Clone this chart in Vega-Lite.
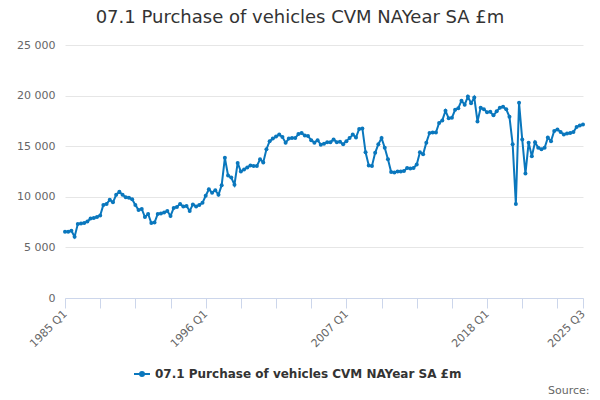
{
  "$schema": "https://vega.github.io/schema/vega-lite/v6.json",
  "autosize": {"type": "none"},
  "width": 518,
  "height": 253,
  "padding": {"left": 65, "top": 45, "right": 17, "bottom": 102},
  "background": "white",
  "config": {
    "font": "DejaVu Sans",
    "view": {"stroke": null}
  },
  "title": {
    "text": "07.1 Purchase of vehicles CVM NAYear SA £m",
    "fontSize": 18,
    "fontWeight": "normal",
    "color": "#333333",
    "anchor": "middle",
    "dx": -24,
    "offset": 12
  },
  "data": {
    "values": [
      {"q": "1985 Q1", "v": 6550}, {"q": "1985 Q2", "v": 6550}, {"q": "1985 Q3", "v": 6650}, {"q": "1985 Q4", "v": 6050},
      {"q": "1986 Q1", "v": 7300}, {"q": "1986 Q2", "v": 7350}, {"q": "1986 Q3", "v": 7400}, {"q": "1986 Q4", "v": 7550},
      {"q": "1987 Q1", "v": 7850}, {"q": "1987 Q2", "v": 7900}, {"q": "1987 Q3", "v": 8000}, {"q": "1987 Q4", "v": 8150},
      {"q": "1988 Q1", "v": 9200}, {"q": "1988 Q2", "v": 9300}, {"q": "1988 Q3", "v": 9700}, {"q": "1988 Q4", "v": 9450},
      {"q": "1989 Q1", "v": 10200}, {"q": "1989 Q2", "v": 10500}, {"q": "1989 Q3", "v": 10200}, {"q": "1989 Q4", "v": 9950},
      {"q": "1990 Q1", "v": 9900}, {"q": "1990 Q2", "v": 9750}, {"q": "1990 Q3", "v": 9200}, {"q": "1990 Q4", "v": 8700},
      {"q": "1991 Q1", "v": 8800}, {"q": "1991 Q2", "v": 8000}, {"q": "1991 Q3", "v": 8300}, {"q": "1991 Q4", "v": 7400},
      {"q": "1992 Q1", "v": 7450}, {"q": "1992 Q2", "v": 8300}, {"q": "1992 Q3", "v": 8350}, {"q": "1992 Q4", "v": 8450},
      {"q": "1993 Q1", "v": 8600}, {"q": "1993 Q2", "v": 8100}, {"q": "1993 Q3", "v": 8900}, {"q": "1993 Q4", "v": 9000},
      {"q": "1994 Q1", "v": 9300}, {"q": "1994 Q2", "v": 9050}, {"q": "1994 Q3", "v": 9100}, {"q": "1994 Q4", "v": 8600},
      {"q": "1995 Q1", "v": 9250}, {"q": "1995 Q2", "v": 9050}, {"q": "1995 Q3", "v": 9200}, {"q": "1995 Q4", "v": 9400},
      {"q": "1996 Q1", "v": 10100}, {"q": "1996 Q2", "v": 10750}, {"q": "1996 Q3", "v": 10400}, {"q": "1996 Q4", "v": 10650},
      {"q": "1997 Q1", "v": 10200}, {"q": "1997 Q2", "v": 11150}, {"q": "1997 Q3", "v": 13850}, {"q": "1997 Q4", "v": 12100},
      {"q": "1998 Q1", "v": 11900}, {"q": "1998 Q2", "v": 11200}, {"q": "1998 Q3", "v": 13350}, {"q": "1998 Q4", "v": 12500},
      {"q": "1999 Q1", "v": 12700}, {"q": "1999 Q2", "v": 12900}, {"q": "1999 Q3", "v": 13100}, {"q": "1999 Q4", "v": 13050},
      {"q": "2000 Q1", "v": 13050}, {"q": "2000 Q2", "v": 13700}, {"q": "2000 Q3", "v": 13400}, {"q": "2000 Q4", "v": 14700},
      {"q": "2001 Q1", "v": 15500}, {"q": "2001 Q2", "v": 15750}, {"q": "2001 Q3", "v": 15950}, {"q": "2001 Q4", "v": 16150},
      {"q": "2002 Q1", "v": 15900}, {"q": "2002 Q2", "v": 15350}, {"q": "2002 Q3", "v": 15750}, {"q": "2002 Q4", "v": 15800},
      {"q": "2003 Q1", "v": 15800}, {"q": "2003 Q2", "v": 16200}, {"q": "2003 Q3", "v": 16300}, {"q": "2003 Q4", "v": 16050},
      {"q": "2004 Q1", "v": 16000}, {"q": "2004 Q2", "v": 15600}, {"q": "2004 Q3", "v": 15350}, {"q": "2004 Q4", "v": 15600},
      {"q": "2005 Q1", "v": 15150}, {"q": "2005 Q2", "v": 15250}, {"q": "2005 Q3", "v": 15400}, {"q": "2005 Q4", "v": 15400},
      {"q": "2006 Q1", "v": 15650}, {"q": "2006 Q2", "v": 15400}, {"q": "2006 Q3", "v": 15450}, {"q": "2006 Q4", "v": 15200},
      {"q": "2007 Q1", "v": 15500}, {"q": "2007 Q2", "v": 15800}, {"q": "2007 Q3", "v": 16150}, {"q": "2007 Q4", "v": 15850},
      {"q": "2008 Q1", "v": 16700}, {"q": "2008 Q2", "v": 16750}, {"q": "2008 Q3", "v": 14400}, {"q": "2008 Q4", "v": 13100},
      {"q": "2009 Q1", "v": 13050}, {"q": "2009 Q2", "v": 14350}, {"q": "2009 Q3", "v": 15200}, {"q": "2009 Q4", "v": 15800},
      {"q": "2010 Q1", "v": 14850}, {"q": "2010 Q2", "v": 13700}, {"q": "2010 Q3", "v": 12450}, {"q": "2010 Q4", "v": 12400},
      {"q": "2011 Q1", "v": 12500}, {"q": "2011 Q2", "v": 12500}, {"q": "2011 Q3", "v": 12550}, {"q": "2011 Q4", "v": 12850},
      {"q": "2012 Q1", "v": 12800}, {"q": "2012 Q2", "v": 12850}, {"q": "2012 Q3", "v": 13200}, {"q": "2012 Q4", "v": 14400},
      {"q": "2013 Q1", "v": 14200}, {"q": "2013 Q2", "v": 15350}, {"q": "2013 Q3", "v": 16300}, {"q": "2013 Q4", "v": 16350},
      {"q": "2014 Q1", "v": 16350}, {"q": "2014 Q2", "v": 17300}, {"q": "2014 Q3", "v": 17550}, {"q": "2014 Q4", "v": 18500},
      {"q": "2015 Q1", "v": 17750}, {"q": "2015 Q2", "v": 17800}, {"q": "2015 Q3", "v": 18600}, {"q": "2015 Q4", "v": 18750},
      {"q": "2016 Q1", "v": 19500}, {"q": "2016 Q2", "v": 19100}, {"q": "2016 Q3", "v": 19900}, {"q": "2016 Q4", "v": 19250},
      {"q": "2017 Q1", "v": 19800}, {"q": "2017 Q2", "v": 17450}, {"q": "2017 Q3", "v": 18800}, {"q": "2017 Q4", "v": 18650},
      {"q": "2018 Q1", "v": 18350}, {"q": "2018 Q2", "v": 18400}, {"q": "2018 Q3", "v": 18050}, {"q": "2018 Q4", "v": 18450},
      {"q": "2019 Q1", "v": 18800}, {"q": "2019 Q2", "v": 18900}, {"q": "2019 Q3", "v": 18650}, {"q": "2019 Q4", "v": 17900},
      {"q": "2020 Q1", "v": 15200}, {"q": "2020 Q2", "v": 9300}, {"q": "2020 Q3", "v": 19300}, {"q": "2020 Q4", "v": 15650},
      {"q": "2021 Q1", "v": 12300}, {"q": "2021 Q2", "v": 15350}, {"q": "2021 Q3", "v": 14000}, {"q": "2021 Q4", "v": 15400},
      {"q": "2022 Q1", "v": 14850}, {"q": "2022 Q2", "v": 14700}, {"q": "2022 Q3", "v": 14850}, {"q": "2022 Q4", "v": 15850},
      {"q": "2023 Q1", "v": 15500}, {"q": "2023 Q2", "v": 16500}, {"q": "2023 Q3", "v": 16650}, {"q": "2023 Q4", "v": 16400},
      {"q": "2024 Q1", "v": 16150}, {"q": "2024 Q2", "v": 16250}, {"q": "2024 Q3", "v": 16300}, {"q": "2024 Q4", "v": 16400},
      {"q": "2025 Q1", "v": 16900}, {"q": "2025 Q2", "v": 17050}, {"q": "2025 Q3", "v": 17150}
    ]
  },
  "mark": {
    "type": "line",
    "strokeWidth": 2,
    "point": {"filled": true, "size": 16}
  },
  "encoding": {
    "x": {
      "field": "q",
      "type": "ordinal",
      "sort": null,
      "scale": {"type": "point", "padding": 0},
      "axis": {
        "values": ["1985 Q1", "1987 Q4", "1990 Q3", "1993 Q2", "1996 Q1", "1998 Q4", "2001 Q3", "2004 Q2", "2007 Q1", "2009 Q4", "2012 Q3", "2015 Q2", "2018 Q1", "2020 Q4", "2023 Q3", "2025 Q3"],
        "labelExpr": "indexof(['1985 Q1','1996 Q1','2007 Q1','2018 Q1','2025 Q3'], datum.value) >= 0 ? datum.value : ''",
        "labelAngle": -45,
        "labelAlign": "right",
        "labelBaseline": "middle",
        "labelPadding": 4,
        "labelFontSize": 11,
        "labelColor": "#666666",
        "labelOverlap": false,
        "domainColor": "#ccd6eb",
        "tickColor": "#ccd6eb",
        "tickSize": 10,
        "grid": false,
        "title": "Source:",
        "titleFontSize": 11,
        "titleFontWeight": "normal",
        "titleColor": "#666666",
        "titleAlign": "right",
        "titleAnchor": "end",
        "titleBaseline": "alphabetic",
        "titleX": 524,
        "titleY": 95
      }
    },
    "y": {
      "field": "v",
      "type": "quantitative",
      "scale": {"domain": [0, 25000]},
      "axis": {
        "values": [0, 5000, 10000, 15000, 20000, 25000],
        "labelExpr": "replace(format(datum.value, ','), ',', ' ')",
        "labelFontSize": 11,
        "labelColor": "#666666",
        "labelPadding": 10,
        "domain": false,
        "ticks": false,
        "gridColor": "#e6e6e6",
        "title": null
      }
    },
    "color": {
      "datum": "07.1 Purchase of vehicles CVM NAYear SA £m",
      "type": "nominal",
      "scale": {"range": ["#0a77bd"]},
      "legend": {
        "title": null,
        "orient": "none",
        "legendX": 68,
        "legendY": 320,
        "symbolType": "M-1,0L1,0M-0.25,0A0.25,0.25 0 1,0 0.25,0A0.25,0.25 0 1,0 -0.25,0",
        "symbolSize": 256,
        "symbolStrokeWidth": 2,
        "labelFontSize": 12,
        "labelFontWeight": "bold",
        "labelColor": "#333333",
        "labelLimit": 500,
        "encode": {
          "symbols": {"update": {"fill": {"value": "#0a77bd"}, "stroke": {"value": "#0a77bd"}}}
        }
      }
    }
  }
}
